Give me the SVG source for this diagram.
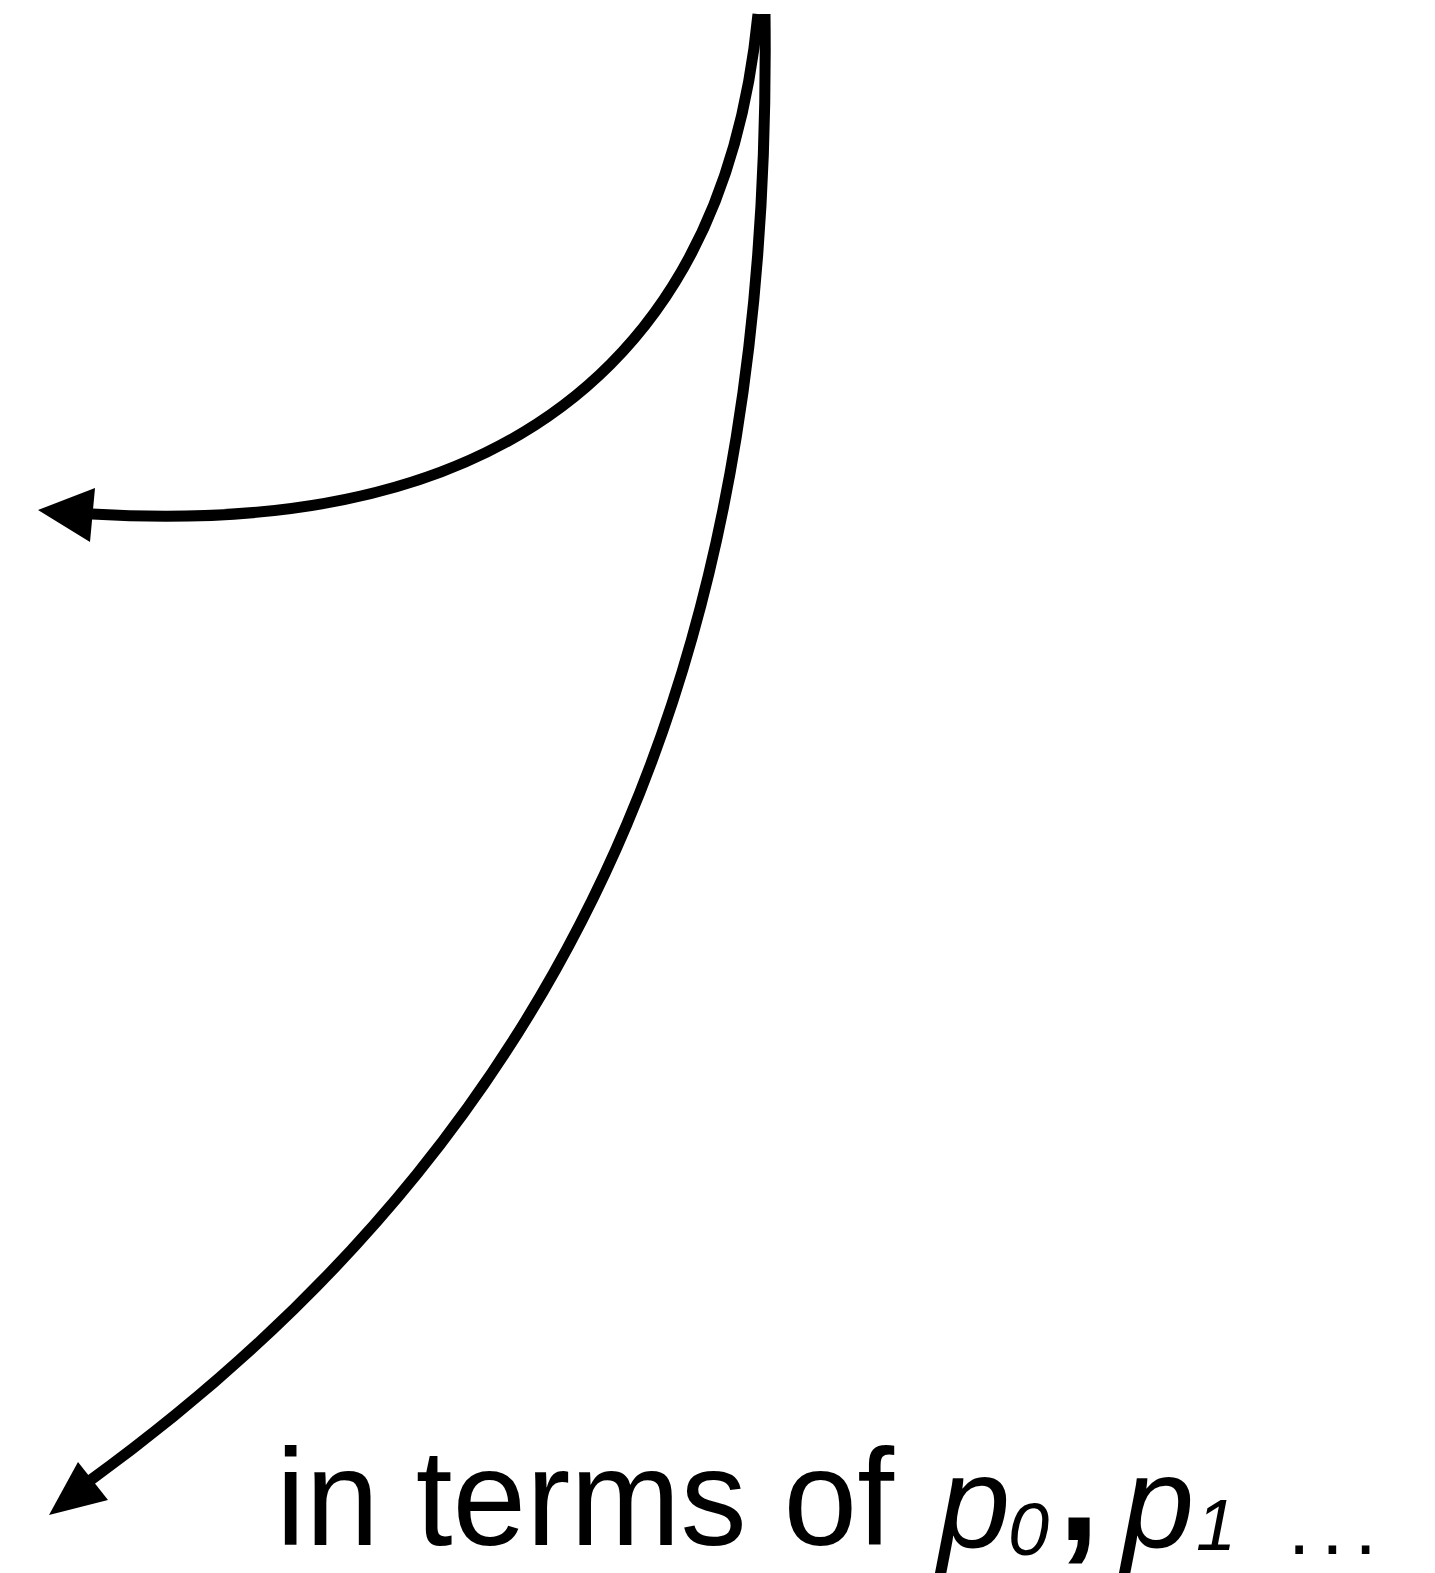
<svg xmlns="http://www.w3.org/2000/svg" width="1435" height="1573" viewBox="0 0 1435 1573">
<style>
.c{fill:none;stroke:#000;stroke-width:11;}
.t{font-family:"Liberation Sans",Arial,sans-serif;fill:#000;}
.i{font-style:italic;}
</style>
<rect width="1435" height="1573" fill="#fff"/>
<g id="connectors">
<path class="c" d="M758,14 C735,250 610,545 92,514"/>
<polygon points="38,510 95,488 90,542" fill="#000"/>
<path class="c" d="M765,14 C772,600 615,1100 88,1482"/>
<polygon points="49,1515 78,1462 108,1500" fill="#000"/>
</g>
<g id="label">
<text class="t" x="276" y="1545" font-size="138" textLength="618" lengthAdjust="spacingAndGlyphs">in terms of</text>
<text class="t i" x="938" y="1547" font-size="130">p</text>
<text class="t i" x="1008" y="1555" font-size="74">0</text>
<text class="t" x="1058" y="1540" font-size="150" font-weight="bold">,</text>
<text class="t i" x="1122" y="1547" font-size="130">p</text>
<text class="t i" x="1196" y="1550" font-size="72">1</text>
<text class="t" x="1288" y="1554" font-size="80" letter-spacing="11">...</text>
</g>
</svg>
